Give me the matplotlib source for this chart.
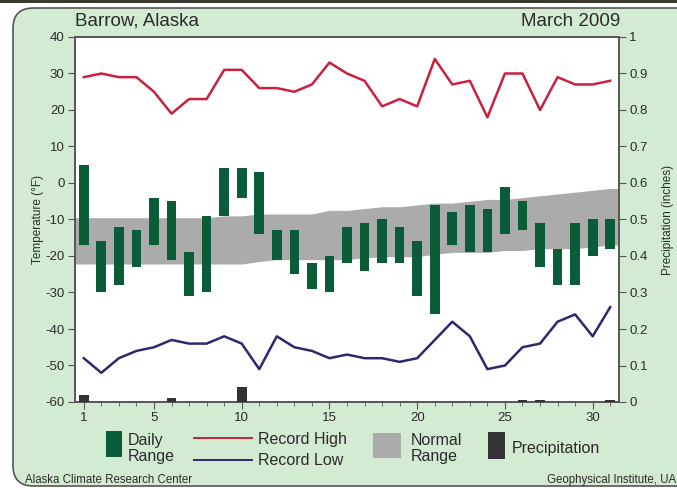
import matplotlib
matplotlib.use("Agg")
import matplotlib.pyplot as plt
import numpy as np
from matplotlib.patches import Rectangle, FancyBboxPatch
from matplotlib.lines import Line2D

plt.rcParams['font.family'] = ['Liberation Sans', 'DejaVu Sans']
plt.rcParams['axes.unicode_minus'] = False

# March 2009, Barrow daily data
days = np.arange(1, 32)
daily_high = [5, -16, -12, -13, -4, -5, -19, -9, 4, 4, 3, -13, -13, -22, -20, -12,
              -11, -10, -12, -16, -6, -8, -6, -7, -1, -5, -11, -18, -11, -10, -10]
daily_low = [-17, -30, -28, -23, -17, -21, -31, -30, -9, -4, -14, -21, -25, -29, -30, -22,
             -24, -22, -22, -31, -36, -17, -19, -19, -14, -13, -23, -28, -28, -20, -18]
record_high = [29, 30, 29, 29, 25, 19, 23, 23, 31, 31, 26, 26, 25, 27, 33, 30,
               28, 21, 23, 21, 34, 27, 28, 18, 30, 30, 20, 29, 27, 27, 28]
record_low = [-48, -52, -48, -46, -45, -43, -44, -44, -42, -44, -51, -42, -45, -46, -48, -47,
              -48, -48, -49, -48, -43, -38, -42, -51, -50, -45, -44, -38, -36, -42, -34]
normal_high = [-9.5, -9.5, -9.5, -9.5, -9.5, -9.5, -9.5, -9.5, -9, -9, -8.5, -8.5, -8.5, -8.5,
               -7.5, -7.5, -7, -6.5, -6.5, -6, -5.5, -5.5, -5, -4.5, -4.5, -4, -3.5, -3,
               -2.5, -2, -1.5]
normal_low = [-22.2, -22.2, -22.2, -22.2, -22.2, -22.2, -22.2, -22.2, -22.2, -22.2, -21.5,
              -21, -21, -21, -21, -21, -20.5, -20.2, -20.2, -20.2, -19.5, -19, -19, -19,
              -18.5, -18.5, -18, -18, -18, -17.5, -17]
precip = [0.02, 0, 0, 0, 0, 0.01, 0, 0, 0, 0.04, 0, 0, 0, 0, 0, 0,
          0, 0, 0, 0, 0, 0, 0, 0, 0, 0.005, 0.005, 0, 0, 0, 0.005]

W, H = 677, 490
bg = '#d3ebd2'
green = '#0b5c38'
red = '#c8213f'
navy = '#2c2a6c'
band = '#ababab'
pcol = '#333333'
txt = '#2b2b2b'


def fx(x):
    return x / W


def fy(y):
    return 1 - y / H


fig = plt.figure(figsize=(W / 100, H / 100), dpi=100, facecolor='white')

# panel background with rounded corners, kept behind the axes
fig.add_artist(Rectangle((0, fy(3)), 1, 3 / H, transform=fig.transFigure,
                         facecolor='#3a3a30', edgecolor='none', zorder=-2))
fig.add_artist(FancyBboxPatch((fx(13), fy(486)), fx(700), 478 / H,
                              boxstyle='round,pad=0,rounding_size=0.03',
                              transform=fig.transFigure, facecolor=bg,
                              edgecolor='#555555', linewidth=1.2,
                              mutation_aspect=W / H, zorder=-2))

ax = fig.add_axes([fx(75), fy(402), fx(619) - fx(75), (402 - 37) / H])
ax.set_facecolor('white')

# normal range band spans the full width
xb = np.r_[0.5, days, 31.5]
lo_b = np.r_[normal_low[0], normal_low, normal_low[-1]]
hi_b = np.r_[normal_high[0], normal_high, normal_high[-1]]
ax.fill_between(xb, lo_b, hi_b, color=band, linewidth=0, zorder=1)

hi = np.array(daily_high)
lo = np.array(daily_low)
ax.bar(days, hi - lo, bottom=lo, width=0.55, color=green, zorder=3)

ax.plot(days, record_high, color=red, lw=1.8, zorder=4)
ax.plot(days, record_low, color=navy, lw=1.8, zorder=4)

ax.set_xlim(0.5, 31.5)
ax.set_ylim(-60, 40)
ax.set_yticks(np.arange(-60, 41, 10))
ax.set_xticks([1, 5, 10, 15, 20, 25, 30])
ax.set_xticks(days, minor=True)
ax.tick_params(axis='both', which='major', labelsize=9.5, colors='#555555',
               labelcolor=txt, length=5, direction='out', pad=2.5)
ax.tick_params(axis='x', which='minor', length=3, colors='#555555')
ax.set_ylabel('Temperature (°F)', fontsize=8.5, color=txt)
ax.yaxis.set_label_coords(-0.057, 0.5)

ax2 = ax.twinx()
ax2.bar(days, precip, width=0.55, color=pcol, zorder=3)
ax2.set_ylim(0, 1)
ax2.set_yticks(np.arange(0, 1.01, 0.1))
ax2.set_yticklabels(['0'] + ['%.1f' % v for v in np.arange(0.1, 0.95, 0.1)] + ['1'])
ax2.tick_params(axis='y', labelsize=9.5, colors='#555555', labelcolor=txt,
                length=5, direction='out', pad=2.5)
ax2.set_ylabel('Precipitation (inches)', fontsize=8.5, color=txt)
ax2.yaxis.set_label_coords(1.079, 0.5)

for a in (ax, ax2):
    for s in a.spines.values():
        s.set_color('#555555')
        s.set_linewidth(1.2)

# titles
fig.text(fx(75), fy(21), 'Barrow, Alaska', fontsize=13.5, color=txt, va='center')
fig.text(fx(620), fy(21), 'March 2009', fontsize=13.5, color=txt, va='center', ha='right')

# legend
fig.add_artist(Rectangle((fx(106), fy(457)), 16 / W, 26 / H, transform=fig.transFigure,
                         facecolor=green, edgecolor='none'))
fig.text(fx(128), fy(440), 'Daily', fontsize=11.5, color=txt, va='center')
fig.text(fx(128), fy(456), 'Range', fontsize=11.5, color=txt, va='center')

fig.add_artist(Line2D([fx(194), fx(252)], [fy(438), fy(438)], transform=fig.transFigure,
                      color=red, lw=1.4))
fig.add_artist(Line2D([fx(194), fx(252)], [fy(460), fy(460)], transform=fig.transFigure,
                      color=navy, lw=1.4))
fig.text(fx(258), fy(439), 'Record High', fontsize=11.5, color=txt, va='center')
fig.text(fx(258), fy(460), 'Record Low', fontsize=11.5, color=txt, va='center')

fig.add_artist(Rectangle((fx(373), fy(458)), 28 / W, 25 / H, transform=fig.transFigure,
                         facecolor=band, edgecolor='none'))
fig.text(fx(411), fy(440), 'Normal', fontsize=11.5, color=txt, va='center')
fig.text(fx(411), fy(456), 'Range', fontsize=11.5, color=txt, va='center')

fig.add_artist(Rectangle((fx(488), fy(459)), 17 / W, 27 / H, transform=fig.transFigure,
                         facecolor=pcol, edgecolor='none'))
fig.text(fx(512), fy(448), 'Precipitation', fontsize=11.5, color=txt, va='center')

# footer credits
fig.text(fx(25), fy(480), 'Alaska Climate Research Center', fontsize=8.3, color=txt,
         va='center')
fig.text(fx(683), fy(480), 'Geophysical Institute, UAF', fontsize=8.3, color=txt,
         va='center', ha='right')

fig.savefig('out.png', dpi=100, facecolor=fig.get_facecolor())
